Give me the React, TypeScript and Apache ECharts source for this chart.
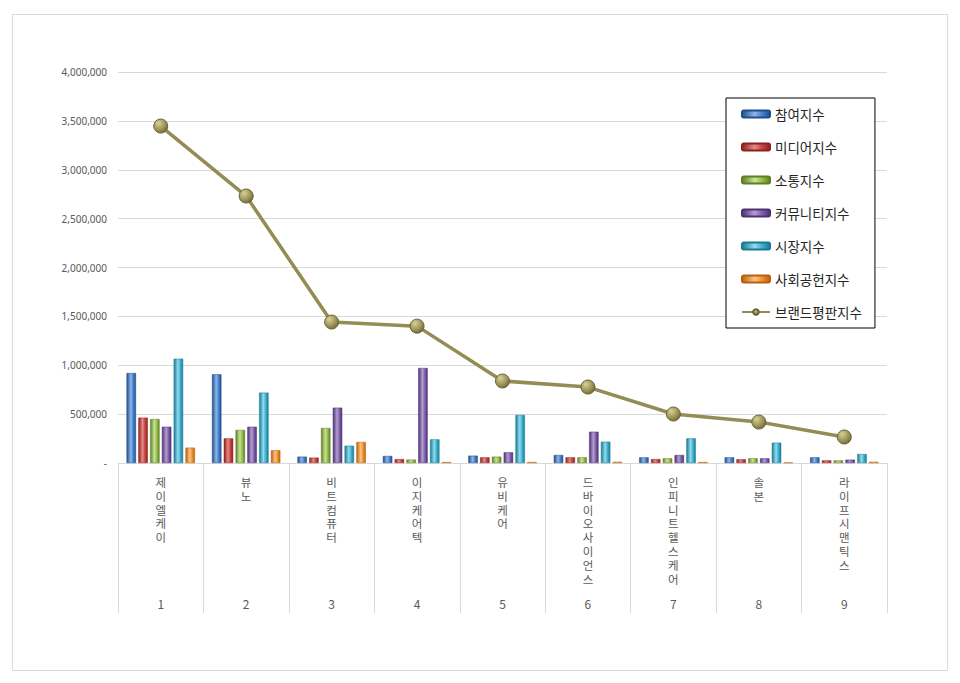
import React, { useEffect, useRef } from "react";
import * as echarts from "echarts";

const categories = ["제이엘케이", "뷰노", "비트컴퓨터", "이지케어텍", "유비케어", "드바이오사이언스", "인피니트헬스케어", "솔본", "라이프시맨틱스"];
const ranks = ["1", "2", "3", "4", "5", "6", "7", "8", "9"];
const participation = [920000, 907000, 65000, 72000, 75000, 82000, 58000, 58000, 58000];
const media = [464000, 252000, 55000, 40000, 58000, 58000, 40000, 38000, 27000];
const communication = [450000, 338000, 358000, 35000, 65000, 58000, 48000, 48000, 27000];
const community = [371000, 371000, 566000, 972000, 109000, 320000, 82000, 48000, 34000];
const market = [1067000, 720000, 177000, 242000, 491000, 218000, 252000, 208000, 92000];
const social = [157000, 130000, 215000, 10000, 10000, 12000, 10000, 5000, 12000];
const brand = [3447000, 2731000, 1442000, 1400000, 839000, 777000, 501000, 419000, 266000];

const barSeries = [
  { name: "참여지수", data: participation, dark: "#1f4e8c", mid: "#4a86d0", light: "#8fb6e8" },
  { name: "미디어지수", data: media, dark: "#8c2220", mid: "#cc4643", light: "#e88a88" },
  { name: "소통지수", data: communication, dark: "#5f7f24", mid: "#9bc24f", light: "#c9e296" },
  { name: "커뮤니티지수", data: community, dark: "#4d3274", mid: "#8462ad", light: "#b49ed2" },
  { name: "시장지수", data: market, dark: "#1b7a93", mid: "#3fb4d2", light: "#92dcee" },
  { name: "사회공헌지수", data: social, dark: "#b8610f", mid: "#f5962e", light: "#fbc586" },
];

const FONT = "'Noto Sans CJK KR', 'Noto Sans', sans-serif";

export default function App() {
  const ref = useRef<HTMLDivElement>(null);
  useEffect(() => {
    if (!ref.current) return;
    const chart = echarts.init(ref.current, undefined, { renderer: "svg" });
    const series: any[] = barSeries.map((s) => ({
      name: s.name,
      type: "bar",
      data: s.data,
      barGap: "25%",
      barCategoryGap: "20%",
      itemStyle: {
        color: new echarts.graphic.LinearGradient(0, 0, 1, 0, [
          { offset: 0, color: s.dark },
          { offset: 0.45, color: s.light },
          { offset: 0.7, color: s.mid },
          { offset: 1, color: s.dark },
        ]),
        borderColor: s.dark,
        borderWidth: 0.5,
      },
    }));
    series.push({
      name: "브랜드평판지수",
      type: "line",
      data: brand,
      symbol: "circle",
      symbolSize: 14,
      lineStyle: { color: "#938c55", width: 3.5 },
      itemStyle: {
        color: new echarts.graphic.RadialGradient(0.35, 0.3, 0.75, [
          { offset: 0, color: "#d6d09a" },
          { offset: 0.6, color: "#9e965a" },
          { offset: 1, color: "#6f6938" },
        ]),
        borderColor: "#6a6436",
        borderWidth: 1,
      },
      z: 5,
    });
    chart.setOption({
      animation: false,
      backgroundColor: "#ffffff",
      graphic: [
        {
          type: "rect",
          shape: { x: 12.5, y: 14.5, width: 935, height: 656 },
          style: { fill: "none", stroke: "#d9d9d9", lineWidth: 1 },
          silent: true,
        },
      ],
      grid: { left: 118, right: 73, top: 72, bottom: 220 },
      legend: {
        orient: "vertical",
        left: 726,
        top: 98,
        padding: [8, 13, 8, 15],
        itemGap: 17,
        itemWidth: 28,
        itemHeight: 7,
        borderColor: "#000000",
        borderWidth: 1,
        backgroundColor: "#ffffff",
        textStyle: { fontSize: 13.5, color: "#262626", fontFamily: FONT, lineHeight: 16 },
        data: [...barSeries.map((s) => s.name), "브랜드평판지수"],
      },
      xAxis: [
        {
          type: "category",
          data: categories,
          axisLine: { show: true, lineStyle: { color: "#d9d9d9" } },
          axisTick: { show: true, interval: 0, length: 150, lineStyle: { color: "#d9d9d9" } },
          axisLabel: {
            interval: 0,
            margin: 12,
            color: "#595959",
            fontSize: 11.5,
            lineHeight: 13.8,
            fontFamily: FONT,
            verticalAlign: "top",
            formatter: (v: string) => v.split("").join("\n"),
          },
        },
        {
          type: "category",
          data: ranks,
          position: "bottom",
          axisLine: { show: false },
          axisTick: { show: false },
          axisLabel: {
            interval: 0,
            margin: 134,
            color: "#595959",
            fontSize: 12,
            fontFamily: FONT,
            verticalAlign: "top",
          },
        },
      ],
      yAxis: {
        type: "value",
        min: 0,
        max: 4000000,
        interval: 500000,
        axisLine: { show: false },
        axisTick: { show: false },
        splitLine: { lineStyle: { color: "#d9d9d9" } },
        axisLabel: {
          margin: 11,
          color: "#595959",
          fontSize: 10,
          fontFamily: "'Noto Sans', sans-serif",
          formatter: (v: number) => (v === 0 ? "-" : v.toLocaleString("en-US")),
        },
      },
      series,
    });
    return () => chart.dispose();
  }, []);
  return (
    <div
      ref={ref}
      style={{ position: "fixed", left: 0, top: 0, width: 960, height: 683 }}
    />
  );
}
